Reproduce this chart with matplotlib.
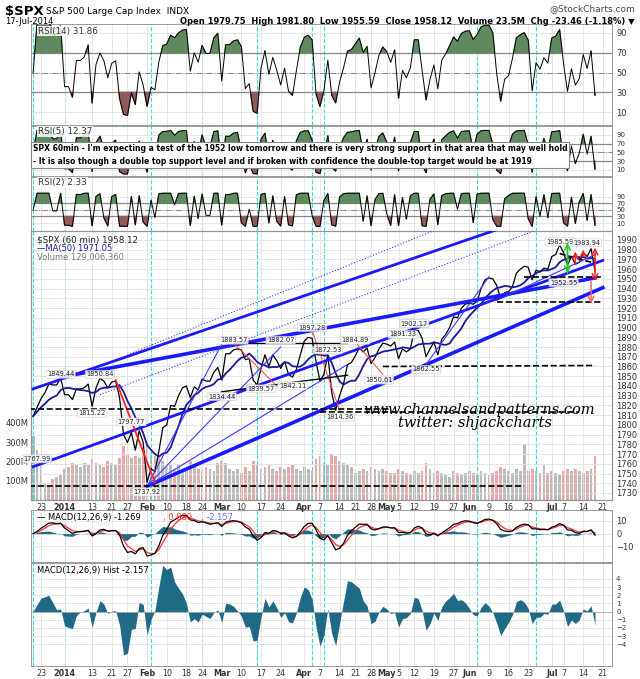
import numpy as np
import pandas as pd
import matplotlib
matplotlib.use("Agg")
import matplotlib.pyplot as plt

# ---- data ----
holidays = ["2013-12-25", "2014-01-01", "2014-01-20", "2014-02-17", "2014-04-18", "2014-05-26", "2014-07-04"]
dates = [d for d in pd.bdate_range("2013-12-19", "2014-07-17") if d.strftime("%Y-%m-%d") not in holidays]

closes = [1809, 1818, 1827, 1833, 1842, 1841, 1841, 1848,
          1831, 1831, 1826, 1837, 1837, 1838, 1842, 1819, 1838, 1848, 1845, 1838, 1844, 1845, 1828, 1790, 1782, 1792, 1774, 1794, 1782,
          1741, 1755, 1752, 1773, 1797, 1800, 1820, 1819, 1830, 1838, 1840, 1828, 1839, 1836, 1847, 1845, 1845, 1854, 1859,
          1846, 1873, 1873, 1877, 1878, 1877, 1867, 1868, 1846, 1841, 1858, 1872, 1860, 1872, 1866, 1858, 1865, 1852, 1849, 1857, 1872,
          1886, 1890, 1889, 1865, 1845, 1852, 1872, 1833, 1815, 1830, 1842, 1862, 1864, 1871, 1879, 1875, 1879, 1863, 1869, 1878, 1884,
          1883, 1881, 1885, 1868, 1878, 1875, 1878, 1897, 1897, 1889, 1870, 1878, 1885, 1872, 1888, 1893, 1900, 1911, 1910, 1920, 1924,
          1925, 1924, 1927, 1940, 1949, 1951, 1950, 1943, 1930, 1936, 1937, 1942, 1956, 1960, 1963, 1962, 1949, 1959, 1957, 1961, 1960,
          1973, 1975, 1985, 1977, 1964, 1973, 1965, 1967, 1977, 1973, 1981, 1958]

volumes = [330, 260, 180, 90, 80, 110, 120, 130,
           160, 170, 190, 180, 170, 190, 180, 210, 190, 180, 170, 200, 190, 180, 220, 280, 240, 220, 230, 220, 250,
           290, 250, 230, 220, 200, 170, 180, 160, 180, 150, 160, 200, 170, 160, 150, 170, 160, 150, 190,
           200, 190, 160, 150, 160, 140, 170, 150, 200, 180, 160, 170, 180, 160, 150, 170, 160, 170, 180, 160, 150,
           170, 160, 150, 210, 230, 190, 180, 240, 230, 200, 190, 180, 170, 140, 150, 160, 150, 170, 160, 150, 160,
           150, 140, 140, 160, 150, 140, 130, 150, 140, 150, 190, 160, 140, 150, 140, 130, 120, 150, 140, 130, 140,
           150, 140, 130, 150, 140, 130, 140, 150, 170, 160, 150, 140, 160, 150, 290, 150, 160, 150, 140, 180, 140,
           150, 140, 130, 150, 160, 150, 160, 150, 140, 150, 160, 230]
if not (len(dates) == len(closes) == len(volumes)):
    raise SystemExit(f"length mismatch {len(dates)} {len(closes)} {len(volumes)}")

# chart is hourly; indicator periods are shortened to suit daily closes
RSI_PERIODS = {"14": 3.0, "5": 1.5, "2": 1.1}
MACD_SPANS = (4.0, 8.7, 3.0)
MA_DAYS = 7

vlines = ["2013-12-19", "2014-01-02", "2014-02-04", "2014-02-24", "2014-03-14", "2014-04-03", "2014-04-08", "2014-06-04", "2014-06-25"]

tick_dates = ["2013-12-23", "2014-01-02", "2014-01-13", "2014-01-21", "2014-01-27", "2014-02-03", "2014-02-10", "2014-02-18",
              "2014-02-24", "2014-03-03", "2014-03-10", "2014-03-17", "2014-03-24", "2014-04-01", "2014-04-07", "2014-04-14",
              "2014-04-21", "2014-04-25", "2014-05-01", "2014-05-06", "2014-05-12", "2014-05-19", "2014-05-27", "2014-06-02",
              "2014-06-09", "2014-06-16", "2014-06-23", "2014-07-01", "2014-07-07", "2014-07-14", "2014-07-21"]
tick_labels = ["23", "2014", "13", "21", "27", "Feb", "10", "18", "24", "Mar", "10", "17", "24", "Apr", "7", "14",
               "21", "28", "May", "5", "12", "19", "27", "Jun", "9", "16", "23", "Jul", "7", "14", "21"]
bold_labels = {"2014", "Feb", "Mar", "Apr", "May", "Jun", "Jul"}

# trend lines drawn on chart: (date1, price1, date2, price2, color, width, style)
trendlines = [
    ("2013-12-19", 1837, "2014-07-21", 2038, "#1a1aff", 2.0, "-"),
    ("2013-12-19", 1757, "2014-07-21", 1969, "#1a1aff", 2.0, "-"),
    ("2014-02-03", 1737, "2014-07-21", 1941, "#1a1aff", 2.6, "-"),
    ("2013-12-31", 1849, "2014-07-17", 1951, "#1a1aff", 2.6, "-"),
    ("2014-01-15", 1831, "2014-07-21", 2026, "#3a3aff", 0.8, ":"),
    ("2014-01-27", 1872, "2014-07-21", 2070, "#3a3aff", 0.8, ":"),
    ("2014-02-03", 1737, "2014-03-03", 1883, "#3a3aff", 0.8, "-"),
    ("2014-02-03", 1737, "2014-03-24", 1880, "#3a3aff", 0.8, "-"),
    ("2014-02-03", 1737, "2014-04-16", 1862, "#3a3aff", 0.8, "-"),
    ("2014-05-15", 1862, "2014-06-09", 1952, "#3a3aff", 0.8, "-"),
    ("2014-06-11", 1928, "2014-07-17", 1975, "#3a3aff", 0.8, "-"),
    ("2014-01-22", 1846, "2014-02-05", 1741, "#ff2020", 1.3, "-"),
    ("2014-03-06", 1884, "2014-03-21", 1840, "#ff4040", 0.7, "-"),
    ("2014-04-03", 1897, "2014-04-14", 1815, "#ff4040", 0.7, "-"),
    ("2014-04-21", 1885, "2014-04-30", 1852, "#ff4040", 0.7, "-"),
    ("2014-03-06", 1884, "2014-04-16", 1884, "black", 1.0, "-"),
    ("2014-03-03", 1834, "2014-04-16", 1851, "black", 1.0, "-"),
    ("2013-12-18", 1737, "2014-06-20", 1737, "black", 1.2, "--"),
    ("2013-12-18", 1816, "2014-05-02", 1816, "black", 1.2, "--"),
    ("2014-04-07", 1813, "2014-07-11", 1813, "black", 1.2, "--"),
    ("2014-04-30", 1860, "2014-07-17", 1861, "black", 1.2, "--"),
    ("2014-06-11", 1926, "2014-07-21", 1926, "black", 1.2, "--"),
    ("2014-06-20", 1952, "2014-07-21", 1952, "black", 1.2, "--"),
    ("2014-07-03", 1976, "2014-07-17", 1966, "black", 1.2, "--"),
]

price_labels = [("2013-12-31", 1852, "1849.44"), ("2014-01-15", 1852, "1850.84"), ("2014-01-13", 1812, "1815.22"),
                ("2014-01-28", 1803, "1797.77"), ("2013-12-20", 1765, "1767.99"), ("2014-02-03", 1731, "1737.92"),
                ("2014-03-06", 1887, "1883.57"), ("2014-03-24", 1887, "1882.07"), ("2014-04-03", 1900, "1897.28"),
                ("2014-04-09", 1877, "1872.53"), ("2014-03-03", 1829, "1834.44"), ("2014-03-17", 1837, "1839.57"),
                ("2014-03-27", 1840, "1842.11"), ("2014-04-14", 1808, "1814.36"), ("2014-04-21", 1887, "1884.89"),
                ("2014-04-29", 1846, "1850.61"), ("2014-05-07", 1893, "1891.33"), ("2014-05-12", 1904, "1902.17"),
                ("2014-05-15", 1857, "1862.55"), ("2014-07-03", 1988, "1985.59"), ("2014-07-15", 1987, "1983.94"),
                ("2014-07-07", 1946, "1952.55")]

# ---- helpers ----
N = len(dates)
pos = {d.strftime("%Y-%m-%d"): i for i, d in enumerate(dates)}


def X(s):
    if s in pos:
        return pos[s]
    t = pd.Timestamp(s)
    if t > dates[-1]:
        return N - 1 + len(pd.bdate_range(dates[-1], t)) - 1
    return -len(pd.bdate_range(t, dates[0])) + 1


sc = (595 - 41) / (N - 1 - X("2013-12-23"))
xlo = X("2013-12-23") - (41 - 31) / sc
xhi = N - 1 + (612 - 595) / sc

W, H = 640, 679
fig = plt.figure(figsize=(W / 100, H / 100), dpi=100)
label_box = dict(boxstyle="square,pad=0.1", fc="white", ec="none", alpha=0.85)


def panel(top, bottom, left=31, right=612):
    ax = fig.add_axes([left / W, 1 - bottom / H, (right - left) / W, (bottom - top) / H])
    ax.set_xlim(xlo, xhi)
    ax.yaxis.tick_right()
    ax.tick_params(labelsize=6, length=0, pad=3, colors="#333333")
    ax.set_xticks([X(d) for d in tick_dates])
    ax.set_xticklabels([])
    ax.grid(True, color="#e2e2e2", lw=0.6)
    for sp in ax.spines.values():
        sp.set_color("#999999")
        sp.set_linewidth(0.7)
    for v in vlines:
        ax.axvline(X(v), color="#33dddd", ls="--", lw=0.8, zorder=1)
    return ax


def rsi(vals, n):
    s = pd.Series(vals, dtype=float)
    d = s.diff()
    up = d.clip(lower=0).ewm(alpha=1 / n, adjust=False).mean()
    dn = (-d.clip(upper=0)).ewm(alpha=1 / n, adjust=False).mean()
    return (100 - 100 / (1 + up / dn.replace(0, 1e-9))).fillna(50).values


xs = np.arange(N)


def rsi_panel(top, bottom, n, ylim, label, ticksize=6):
    ax = panel(top, bottom)
    r = rsi(closes, n)
    ax.set_ylim(*ylim)
    ax.set_yticks([10, 30, 50, 70, 90])
    ax.tick_params(axis="y", labelsize=ticksize)
    ax.axhline(70, color="#888888", lw=0.9)
    ax.axhline(30, color="#888888", lw=0.9)
    ax.axhline(50, color="#888888", lw=0.7, ls="-.")
    ax.fill_between(xs, r, 70, where=r > 70, color="#5f8a5f", interpolate=True, zorder=2)
    ax.fill_between(xs, r, 30, where=r < 30, color="#8e5a5a", interpolate=True, zorder=2)
    ax.plot(xs, r, color="black", lw=0.7, zorder=3)
    ax.text(0.012, 0.975, label, transform=ax.transAxes, fontsize=6.3, va="top", color="#333333",
            zorder=12, bbox=label_box)
    return ax


# ---- header ----
fig.text(5 / W, 1 - 12 / H, "$SPX", fontsize=9.5, weight="bold", va="center")
fig.text(46 / W, 1 - 11 / H, "S&P 500 Large Cap Index  INDX", fontsize=6.5, va="center")
fig.text(5 / W, 1 - 22 / H, "17-Jul-2014", fontsize=6, va="center")
fig.text(635 / W, 1 - 9 / H, "@StockCharts.com", fontsize=6.5, ha="right", va="center", color="#444444")
fig.text(635 / W, 1 - 21 / H, "Open 1979.75  High 1981.80  Low 1955.59  Close 1958.12  Volume 23.5M  Chg -23.46 (-1.18%) \u25BC",
         fontsize=6, ha="right", va="center", weight="bold")

# ---- RSI panels ----
ax1 = rsi_panel(24, 125, RSI_PERIODS["14"], (-3, 99), "RSI(14) 31.86")
ax2 = rsi_panel(126, 176, RSI_PERIODS["5"], (-4, 110), "RSI(5) 12.37", 5)
ax3 = rsi_panel(177, 231, RSI_PERIODS["2"], (-14, 149), "RSI(2) 2.33", 5)
ax2.text(0.003, 0.42, "SPX 60min - I'm expecting a test of the 1952 low tomorrow and there is very strong support in that area that may well hold\n"
         "- It is also though a double top support level and if broken with confidence the double-top target would be at 1919",
         transform=ax2.transAxes, fontsize=5.5, weight="bold", va="center", linespacing=1.5, zorder=10,
         bbox=dict(boxstyle="square,pad=0.25", fc="white", ec="#888888", lw=0.8))

# ---- main price panel ----
axp = panel(231, 500)
axv = axp.twinx()
axv.set_xlim(xlo, xhi)
axv.set_ylim(0, 1394)
vcol = ["#e8a8a8" if i > 0 and closes[i] < closes[i - 1] else "#bbbbbb" for i in range(N)]
axv.bar(xs, volumes, width=0.7, color=vcol, zorder=1)
axv.yaxis.tick_left()
axv.set_yticks([100, 200, 300, 400])
axv.set_yticklabels(["100M", "200M", "300M", "400M"])
axv.tick_params(labelsize=6, length=0, pad=2, colors="#333333")
axp.yaxis.tick_right()
axp.set_zorder(axv.get_zorder() + 1)
axp.patch.set_visible(False)

axp.set_ylim(1722.8, 1999.2)
axp.set_yticks(np.arange(1730, 1991, 10))
ma = pd.Series(closes, dtype=float).rolling(MA_DAYS, min_periods=1).mean().values
axp.plot(xs, closes, color="black", lw=0.9, zorder=4)
axp.plot(xs, ma, color="#1a1a99", lw=1.3, zorder=4)
for d1, p1, d2, p2, c, lw, ls in trendlines:
    axp.plot([X(d1), X(d2)], [p1, p2], color=c, lw=lw, ls=ls, zorder=5)
for d, p, t in price_labels:
    axp.text(X(d), p, t, fontsize=4.8, ha="center", va="center", color="#222222", zorder=6,
             bbox=dict(boxstyle="round,pad=0.15", fc="white", ec="#bbbbbb", lw=0.4, alpha=0.85))
# arrows at right
for d, y0, y1, c in [("2014-07-08", 1953, 1990, "#22cc22"), ("2014-07-08", 1985, 1953, "#22cc22"),
                     ("2014-07-17", 1972, 1945, "#ff2020"), ("2014-07-17", 1965, 1985, "#ff2020"),
                     ("2014-07-14", 1970, 1983, "#ff2020"), ("2014-07-10", 1962, 1981, "#ff2020"),
                     ("2014-07-16", 1950, 1922, "#ff6060")]:
    axp.annotate("", xy=(X(d), y1), xytext=(X(d), y0),
                 arrowprops=dict(arrowstyle="->", color=c, lw=1.1), zorder=7)
axp.text(X("2014-07-17"), 1815, "www.channelsandpatterns.com", fontsize=10.5, family="DejaVu Serif",
         style="italic", ha="right", va="center", zorder=8)
axp.text(X("2014-07-01"), 1809, "twitter: shjackcharts", fontsize=10.5, family="DejaVu Serif",
         style="italic", ha="right", va="top", zorder=8)
axp.text(0.01, 0.985, "$SPX (60 min) 1958.12", transform=axp.transAxes, fontsize=6.3, va="top", color="#222222")
axp.text(0.01, 0.95, "\u2014MA(50) 1971.05", transform=axp.transAxes, fontsize=6, va="top", color="#1a1a99")
axp.text(0.01, 0.918, "Volume 129,006,360", transform=axp.transAxes, fontsize=6, va="top", color="#777777")

# ---- MACD ----
cs = pd.Series(closes, dtype=float)
macd = (cs.ewm(span=MACD_SPANS[0], adjust=False).mean() - cs.ewm(span=MACD_SPANS[1], adjust=False).mean()).values
sig = pd.Series(macd).ewm(span=MACD_SPANS[2], adjust=False).mean().values
hist = macd - sig

axm = panel(510, 562)
ml = max(14.2, np.abs(macd).max() * 1.05)
axm.set_ylim(-ml * 1.2, ml)
axm.set_yticks([-10, 0, 10])
axm.fill_between(xs, hist, 0, color="#1f6a87", lw=0, zorder=2)
axm.plot(xs, sig, color="#ff3030", lw=0.9, zorder=3)
axm.plot(xs, macd, color="black", lw=0.9, zorder=4)
axm.text(0.01, 0.95, "\u2014 MACD(12,26,9) -1.269", transform=axm.transAxes, fontsize=6, va="top", zorder=12)
axm.text(0.228, 0.95, ", 0.889", transform=axm.transAxes, fontsize=6, va="top", color="#ff3030", zorder=12)
axm.text(0.292, 0.95, ", -2.157", transform=axm.transAxes, fontsize=6, va="top", color="#6666ff", zorder=12)

axh = panel(563, 666)
hl = max(4.36, np.abs(hist).max() * 1.05)
axh.set_ylim(-hl * 1.12, hl)
axh.set_yticks(np.arange(-4, 5))
axh.tick_params(axis="y", labelsize=5)
axh.fill_between(xs, hist, 0, color="#1f6a87", lw=0, zorder=2)
axh.axhline(0, color="#aaaaaa", lw=0.6)
axh.text(0.01, 0.97, "MACD(12,26,9) Hist -2.157", transform=axh.transAxes, fontsize=6, va="top")

# date labels under main and bottom panels
for ax in (axp, axh):
    ax.set_xticklabels(tick_labels)
    ax.tick_params(axis="x", labelsize=5.8, pad=2)
    for lab in ax.get_xticklabels():
        if lab.get_text() in bold_labels:
            lab.set_fontweight("bold")

fig.savefig("out.png", dpi=100)
